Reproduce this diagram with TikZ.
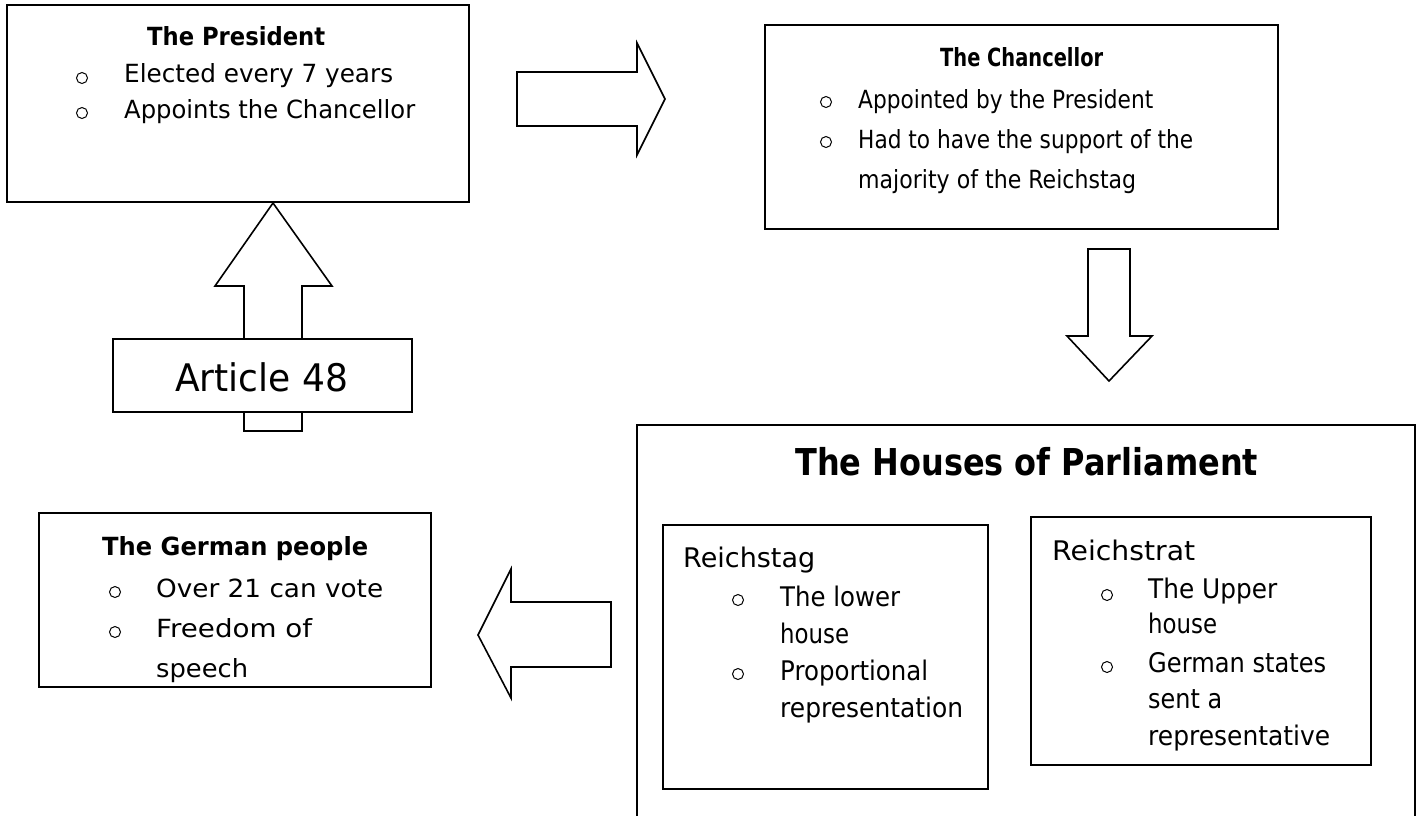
\documentclass[tikz,border=0pt]{standalone}
\usepackage{fontspec}
\setmainfont{DejaVu Sans}
\newcommand\fw[2]{\resizebox{#1pt}{\height}{#2}}
\tikzset{
  x=1pt, y=-1pt,
  box/.style={draw, line width=2pt, fill=white, inner sep=0pt, outer sep=0pt, anchor=north west},
  blk/.style={draw, line width=1.6pt, line join=miter, fill=white},
  bul/.style={circle, draw, line width=1pt, minimum size=11pt, inner sep=0pt},
  txt/.style={anchor=base west, inner sep=0pt, font=\fontsize{25}{30}\selectfont},
  ttl/.style={anchor=base west, inner sep=0pt, font=\fontsize{25}{30}\selectfont\bfseries},
  itx/.style={anchor=base west, inner sep=0pt, font=\fontsize{27}{32}\selectfont},
}
\begin{document}
\begin{tikzpicture}
\useasboundingbox (0,0) rectangle (1421,815);
\fill[white] (0,0) rectangle (1421,815);

% President
\node[box, minimum width=462pt, minimum height=197pt] (pres) at (7,5) {};
\node[ttl] (prest) at (147,45) {\fw{178}{The President}};
\node[bul] (pb1) at (82,78) {};
\node[txt] (pl1) at (124,82) {\fw{269}{Elected every 7 years}};
\node[bul] (pb2) at (82,113) {};
\node[txt] (pl2) at (124,118) {\fw{291}{Appoints the Chancellor}};

% Right arrow
\draw[blk] (517,72) -- (637,72) -- (637,43) -- (665,99) -- (637,155) -- (637,126) -- (517,126) -- cycle;

% Chancellor
\node[box, minimum width=513pt, minimum height=204pt] (chan) at (765,25) {};
\node[ttl] (chant) at (940,66) {\fw{163}{The Chancellor}};
\node[bul] (cb1) at (826,102) {};
\node[txt] (cl1) at (858,108) {\fw{295}{Appointed by the President}};
\node[bul] (cb2) at (826,142) {};
\node[txt] (cl2) at (858,148) {\fw{335}{Had to have the support of the}};
\node[txt] (cl3) at (858,188) {\fw{278}{majority of the Reichstag}};

% Up arrow and Article 48
\draw[blk] (244,431) -- (244,286) -- (215,286) -- (273,203) -- (332,286) -- (302,286) -- (302,431) -- cycle;
\node[box, minimum width=299pt, minimum height=73pt] (art) at (113,339) {};
\node[anchor=base west, inner sep=0pt, font=\fontsize{38}{44}\selectfont] (artt) at (175,391) {\fw{173}{Article 48}};

% Down arrow
\draw[blk] (1088,249) -- (1130,249) -- (1130,336) -- (1152,336) -- (1109,381) -- (1067,336) -- (1088,336) -- cycle;

% Parliament
\begin{scope}
\clip (0,0) rectangle (1421,815);
\node[box, minimum width=778pt, minimum height=450pt] (parl) at (637,425) {};
\end{scope}
\node[anchor=base west, inner sep=0pt, font=\fontsize{37}{44}\selectfont\bfseries] (parlt) at (795,475) {\fw{463}{The Houses of Parliament}};

% Reichstag
\node[box, minimum width=325pt, minimum height=264pt] (rtag) at (663,525) {};
\node[itx] (rtagt) at (683,567) {\fw{132}{Reichstag}};
\node[bul] (rb1) at (738,600) {};
\node[itx] (rl1) at (780,606) {\fw{120}{The lower}};
\node[itx] (rl2) at (780,643) {\fw{69}{house}};
\node[bul] (rb2) at (738,674) {};
\node[itx] (rl3) at (780,680) {\fw{148}{Proportional}};
\node[itx] (rl4) at (780,717) {\fw{183}{representation}};

% Reichstrat
\node[box, minimum width=340pt, minimum height=248pt] (rrat) at (1031,517) {};
\node[itx] (rratt) at (1052,560) {\fw{143}{Reichstrat}};
\node[bul] (sb1) at (1107,595) {};
\node[itx] (sl1) at (1148,598) {\fw{129}{The Upper}};
\node[itx] (sl2) at (1148,633) {\fw{69}{house}};
\node[bul] (sb2) at (1107,667) {};
\node[itx] (sl3) at (1148,672) {\fw{178}{German states}};
\node[itx] (sl4) at (1148,708) {\fw{74}{sent a}};
\node[itx] (sl5) at (1148,745) {\fw{182}{representative}};

% Left arrow
\draw[blk] (611,602) -- (511,602) -- (511,569) -- (478,635) -- (511,698) -- (511,667) -- (611,667) -- cycle;

% German people
\node[box, minimum width=392pt, minimum height=174pt] (germ) at (39,513) {};
\node[ttl] (germt) at (102,555) {\fw{266}{The German people}};
\node[bul] (gb1) at (115,592) {};
\node[txt] (gl1) at (156,597) {\fw{227}{Over 21 can vote}};
\node[bul] (gb2) at (115,632) {};
\node[txt] (gl2) at (156,637) {\fw{156}{Freedom of}};
\node[txt] (gl3) at (156,677) {\fw{92}{speech}};
\end{tikzpicture}
\end{document}
